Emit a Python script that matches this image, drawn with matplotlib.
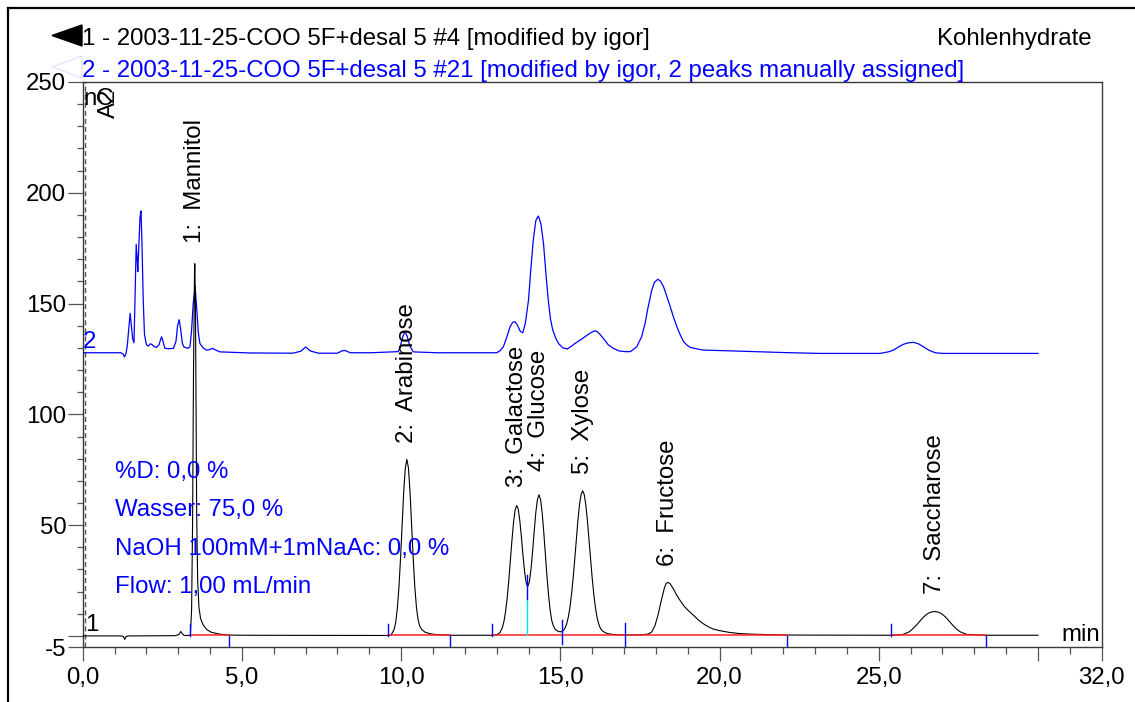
import matplotlib
matplotlib.use("Agg")
import matplotlib.pyplot as plt
from matplotlib.patches import Polygon
from matplotlib.lines import Line2D
from matplotlib.ticker import FixedLocator

plt.rcParams['font.family'] = ['Liberation Sans', 'DejaVu Sans']

# ---------------- data ----------------
title1 = "1 - 2003-11-25-COO 5F+desal 5 #4 [modified by igor]"
title2 = "2 - 2003-11-25-COO 5F+desal 5 #21 [modified by igor, 2 peaks manually assigned]"
title_right = "Kohlenhydrate"
gradient_lines = ["%D: 0,0 %", "Wasser: 75,0 %", "NaOH 100mM+1mNaAc: 0,0 %", "Flow: 1,00 mL/min"]

# trace 1 (black), time [min] and signal [nC]
t1 = [0.0, 1.20, 1.28, 1.32, 1.36, 1.45, 2.90, 3.02, 3.08, 3.13, 3.18, 3.30, 3.38,
      3.42, 3.45, 3.48, 3.51, 3.52, 3.54, 3.56, 3.58, 3.61, 3.65, 3.70, 3.78, 3.90,
      4.05, 4.30, 4.60, 5.00, 9.60, 9.68, 9.78, 9.83, 9.88, 9.93, 9.98, 10.03, 10.08,
      10.13, 10.18, 10.23, 10.28, 10.33, 10.38, 10.43, 10.48, 10.53, 10.58, 10.65,
      10.75, 10.90, 11.10, 11.54, 12.86, 13.00, 13.10, 13.18, 13.23, 13.28, 13.33,
      13.38, 13.43, 13.48, 13.53, 13.58, 13.63, 13.68, 13.73, 13.78, 13.83, 13.88,
      13.93, 13.96, 13.98, 14.03, 14.08, 14.13, 14.18, 14.23, 14.28, 14.33, 14.38,
      14.43, 14.48, 14.53, 14.58, 14.63, 14.68, 14.73, 14.78, 14.83, 14.88, 14.93,
      14.98, 15.04, 15.10, 15.15, 15.20, 15.25, 15.30, 15.35, 15.40, 15.45, 15.50,
      15.55, 15.60, 15.65, 15.70, 15.75, 15.80, 15.85, 15.90, 15.95, 16.00, 16.05,
      16.10, 16.15, 16.20, 16.25, 16.30, 16.40, 16.50, 16.70, 17.04, 17.50, 17.75,
      17.87, 17.97, 18.07, 18.17, 18.27, 18.32, 18.37, 18.45, 18.55, 18.65, 18.76,
      18.90, 19.05, 19.18, 19.35, 19.50, 19.65, 19.80, 20.00, 20.30, 20.60, 21.00,
      21.50, 22.13, 25.38, 25.75, 25.95, 26.05, 26.15, 26.25, 26.35, 26.45, 26.55,
      26.65, 26.75, 26.85, 26.95, 27.05, 27.15, 27.25, 27.35, 27.45, 27.55, 27.75,
      28.37, 30.00]
y1 = [0.0, 0.0, -0.3, -1.6, -0.2, 0.0, 0.1, 0.6, 2.0, 1.0, 0.2, 0.2, 0.3,
      12.0, 50.0, 120.0, 163.0, 168.0, 150.0, 100.0, 55.0, 25.0, 13.0, 8.0, 5.0, 2.8,
      1.6, 0.8, 0.4, 0.3, 0.2, 0.3, 2.9, 6.2, 12.3, 21.7, 34.7, 49.9, 64.7,
      75.7, 79.7, 75.7, 64.7, 49.9, 34.7, 22.0, 13.0, 7.5, 4.5, 2.8,
      1.7, 1.0, 0.6, 0.3, 0.3, 0.5, 1.4, 3.8, 6.6, 11.0, 17.1,
      24.9, 34.0, 43.2, 51.3, 56.9, 58.9, 57.0, 51.6, 44.1, 35.8, 28.5,
      23.8, 22.6, 22.4, 24.7, 30.4, 38.4, 47.5, 55.8, 61.6, 63.7, 61.4,
      55.4, 46.6, 36.6, 26.8, 18.3, 11.6, 6.9, 4.6, 3.2, 2.5, 2.1,
      1.9, 1.9, 2.6, 3.7, 5.5, 8.5, 12.8, 18.7, 25.9, 34.3, 43.3,
      51.9, 59.1, 63.8, 65.5, 63.8, 59.1, 51.9, 43.3, 34.3, 26.1, 18.8,
      12.9, 8.6, 5.6, 3.7, 2.5, 1.5, 1.0, 0.6, 0.4, 0.5, 0.8,
      1.8, 4.6, 9.6, 16.0, 21.8, 23.6, 24.2, 23.5, 21.2, 18.5, 16.0,
      13.2, 11.0, 9.3, 7.0, 5.4, 4.1, 3.1, 2.4, 1.6, 1.1, 0.8,
      0.6, 0.4, 0.3, 0.6, 1.8, 3.0, 4.4, 6.0, 7.7, 9.1, 10.2,
      10.8, 11.0, 10.8, 10.2, 9.1, 7.7, 6.0, 4.4, 3.0, 1.9, 0.7,
      0.3, 0.3]

# trace 2 (blue), displayed with its offset
t2 = [0.0, 1.20, 1.27, 1.31, 1.36, 1.40, 1.45, 1.49, 1.53, 1.57, 1.61, 1.64, 1.68,
      1.71, 1.73, 1.76, 1.80, 1.83, 1.86, 1.90, 1.94, 2.00, 2.06, 2.12, 2.17, 2.24,
      2.32, 2.40, 2.45, 2.48, 2.52, 2.58, 2.70, 2.85, 2.93, 2.98, 3.03, 3.08, 3.13,
      3.18, 3.30, 3.37, 3.42, 3.47, 3.53, 3.58, 3.63, 3.68, 3.78, 3.89, 3.98, 4.08,
      4.18, 4.31, 5.26, 6.60, 6.85, 7.00, 7.15, 7.40, 8.00, 8.15, 8.25, 8.40, 9.04,
      9.91, 9.98, 10.05, 10.12, 10.19, 10.27, 10.38, 11.12, 13.00, 13.10, 13.21, 13.32,
      13.42, 13.50, 13.58, 13.66, 13.74, 13.82, 13.90, 14.00, 14.07, 14.15, 14.23,
      14.31, 14.39, 14.47, 14.55, 14.62, 14.69, 14.76, 14.85, 14.94, 15.08, 15.22,
      15.35, 15.50, 15.62, 15.80, 15.93, 16.03, 16.12, 16.22, 16.35, 16.50, 16.66,
      16.85, 17.03, 17.20, 17.40, 17.55, 17.66, 17.75, 17.87, 17.95, 18.06, 18.15,
      18.24, 18.35, 18.45, 18.55, 18.66, 18.77, 18.87, 18.98, 19.08, 19.30, 19.49,
      20.00, 21.06, 22.00, 23.16, 25.04, 25.30, 25.46, 25.62, 25.77, 25.93, 26.09,
      26.25, 26.40, 26.58, 26.77, 27.00, 30.00]
y2 = [127.8, 127.8, 127.2, 125.9, 127.5, 131.0, 139.0, 145.6, 140.0, 134.0, 132.3, 150.0, 176.7,
      170.0, 164.4, 175.0, 189.0, 191.8, 178.0, 152.0, 136.0, 131.5, 130.8, 131.8, 131.6, 130.6,
      130.2, 131.5, 134.0, 135.0, 133.0, 129.8, 129.6, 129.8, 133.0, 140.0, 142.7, 138.0, 132.0,
      130.4, 129.8, 130.5, 138.0, 150.0, 157.6, 148.0, 137.0, 132.0, 130.0, 129.0, 129.2, 129.8,
      129.0, 128.2, 127.7, 127.6, 128.5, 130.4, 128.6, 127.6, 127.6, 128.7, 128.8, 127.8, 127.8,
      128.3, 131.0, 135.0, 137.3, 135.3, 131.0, 128.2, 127.8, 127.8, 128.6, 130.5, 135.0,
      139.5, 141.5, 141.8, 140.0, 137.5, 136.8, 141.0, 151.6, 165.0, 178.7, 187.5,
      189.5, 186.0, 177.2, 163.0, 151.6, 143.0, 138.1, 134.5, 132.0, 130.0, 129.5,
      130.8, 132.4, 133.5, 135.3, 136.6, 137.4, 137.7, 136.5, 134.3, 131.5, 129.8,
      128.6, 128.3, 128.3, 130.5, 135.0, 141.0, 148.0, 156.0, 159.5, 161.0, 160.0,
      157.6, 153.0, 148.6, 144.0, 139.5, 135.7, 132.8, 131.2, 130.2, 129.5, 129.0,
      128.8, 128.3, 127.9, 127.5, 127.5, 128.2, 129.0, 130.4, 131.6, 132.3, 132.5,
      131.8, 130.5, 128.9, 127.8, 127.5, 127.5]

# peaks of trace 1
peak_names = ["1:  Mannitol", "2:  Arabinose", "3:  Galactose", "4:  Glucose",
              "5:  Xylose", "6:  Fructose", "7:  Saccharose"]
peak_times = [3.52, 10.18, 13.63, 14.33, 15.70, 18.37, 26.75]
peak_heights = [168.0, 79.7, 58.9, 63.7, 65.5, 24.2, 11.0]
label_offsets_px = [21, 16, 18, 24, 17, 16, 18]

# integration delimiters (time, signal at delimiter)
delim_start_t = [3.37, 9.60, 12.86, 25.38]
delim_end_t = [4.60, 11.54, 22.13, 28.37]
delim_valley_t = [13.96, 15.04, 17.04]
delim_valley_v = [22.2, 1.9, 0.4]
baseline_segments = [(3.37, 4.60), (9.60, 11.54), (12.86, 22.13), (25.38, 28.37)]

x_major = [0, 5, 10, 15, 20, 25, 30, 32]
x_labels = ["0,0", "5,0", "10,0", "15,0", "20,0", "25,0", "", "32,0"]
y_major = [-5, 0, 50, 100, 150, 200, 250]
y_labels = ["-5", "", "50", "100", "150", "200", "250"]

# ---------------- figure ----------------
W, H = 1135, 702
fig = plt.figure(figsize=(W / 100, H / 100), dpi=100)
FS = 17.3
BLUE = '#0000ff'

def fx(px):
    return px / W

def fy(py):
    return 1 - py / H

ax = fig.add_axes([fx(82.7), fy(647), (1101.7 - 82.7) / W, (647 - 82) / H])
ax.set_xlim(0, 32)
ax.set_ylim(-5, 250)

for s in ax.spines.values():
    s.set_color('#3a3a3a')
    s.set_linewidth(1.0)

ax.xaxis.set_major_locator(FixedLocator(x_major))
ax.set_xticklabels(x_labels)
ax.xaxis.set_minor_locator(FixedLocator([m for m in range(0, 32) if m not in x_major]))
ax.yaxis.set_major_locator(FixedLocator(y_major))
ax.set_yticklabels(y_labels)
ax.yaxis.set_minor_locator(FixedLocator([m for m in range(10, 250, 10) if m not in y_major]))

ax.tick_params(axis='x', which='major', length=10, width=0.9, color='#555555', pad=4.5, labelsize=FS)
ax.tick_params(axis='x', which='minor', length=4.8, width=0.9, color='#555555')
ax.tick_params(axis='y', which='major', length=10.8, width=0.9, color='#555555', pad=1, labelsize=FS)
ax.tick_params(axis='y', which='minor', length=4.1, width=0.9, color='#555555')

# program marker (dashed)
ax.axvline(0.08, color='#555555', lw=1.0, dashes=(3.6, 2.2), zorder=1)

# traces
ax.plot(t2, y2, color=BLUE, lw=0.9, zorder=3)
ax.plot(t1, y1, color='black', lw=0.8, zorder=3)

# integration baselines
for a, b in baseline_segments:
    ax.plot([a, b], [0.2, 0.2], color='#ff2020', lw=1.1, zorder=4)

for t in delim_start_t:
    ax.plot([t, t], [0.0, 5.5], color=BLUE, lw=1.0, zorder=5)
for t in delim_end_t:
    ax.plot([t, t], [0.0, -5.0], color=BLUE, lw=1.0, zorder=5)
for t, v in zip(delim_valley_t, delim_valley_v):
    lo = max(v - 5.5, -5.0)
    if lo > 0.2:
        ax.plot([t, t], [0.2, lo], color='#00e5e5', lw=1.0, zorder=4)
    ax.plot([t, t], [lo, v + 5.5], color=BLUE, lw=1.0, zorder=5)

# peak labels
for name, t, h, off in zip(peak_names, peak_times, peak_heights, label_offsets_px):
    ax.annotate(name, xy=(t, h), xytext=(0, off), textcoords='offset pixels',
                rotation=90, ha='center', va='bottom', fontsize=FS, color='black')

# gradient text
for i, s in enumerate(gradient_lines):
    fig.text(fx(115), fy(478 + i * 38.4), s, color=BLUE, fontsize=FS, ha='left', va='baseline')

# channel labels
fig.text(fx(83), fy(348), "2", color=BLUE, fontsize=FS, ha='left', va='baseline')
fig.text(fx(85), fy(631), "1", color='black', fontsize=FS, ha='left', va='baseline')
fig.text(fx(83), fy(105), "nC", color='black', fontsize=FS, ha='left', va='baseline')
fig.text(fx(98), fy(118), "A2", color='black', fontsize=FS, ha='left', va='bottom', rotation=90)
fig.text(fx(1100), fy(641), "min", color='black', fontsize=FS, ha='right', va='baseline')

# titles
fig.text(fx(82), fy(45.5), title1, color='black', fontsize=FS, ha='left', va='baseline')
fig.text(fx(82), fy(76.5), title2, color=BLUE, fontsize=FS, ha='left', va='baseline')
fig.text(fx(1092), fy(45.5), title_right, color='black', fontsize=FS, ha='right', va='baseline')

# legend arrows
fig.add_artist(Polygon([(fx(52), fy(35.5)), (fx(82), fy(25)), (fx(82), fy(46))],
                       closed=True, facecolor='black', edgecolor='black',
                       transform=fig.transFigure))
fig.add_artist(Polygon([(fx(52), fy(67)), (fx(82), fy(56)), (fx(82), fy(78))],
                       closed=True, facecolor='none', edgecolor='#dedeff', lw=0.8,
                       transform=fig.transFigure))

# outer frame (left and top edges visible)
fig.add_artist(Line2D([fx(8), fx(8)], [0, fy(8)], color='black', lw=1.6, transform=fig.transFigure))
fig.add_artist(Line2D([fx(8), 1], [fy(8), fy(8)], color='black', lw=1.6, transform=fig.transFigure))

fig.savefig("out.png", dpi=100, facecolor='white')
